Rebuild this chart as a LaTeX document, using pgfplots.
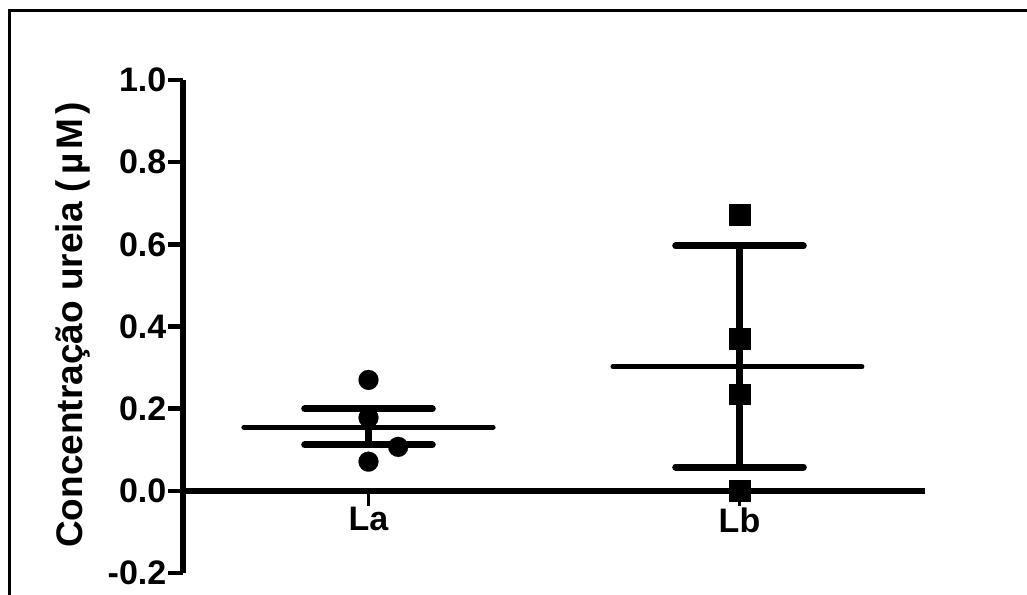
\documentclass[border=0pt]{standalone}
\usepackage{pgfplots}
\pgfplotsset{compat=1.18}
\usepackage{fontspec}
\setmainfont{Liberation Sans}
\begin{document}
\begin{tikzpicture}[x=1pt,y=1pt]
\useasboundingbox (0,0) rectangle (1027,594);
\draw[line width=2.5pt] (9.5,-5) -- (9.5,583.7) -- (1035,583.7);
\begin{axis}[
  at={(183pt,21pt)}, anchor=south west,
  scale only axis, width=742pt, height=493pt,
  xmin=0.5, xmax=2.5, ymin=-0.2, ymax=1.0,
  enlargelimits=false, clip=false,
  axis x line=middle, axis y line=left,
  hide obscured x ticks=false, hide obscured y ticks=false,
  axis line style={-, line width=5.5pt},
  tick align=outside,
  major tick length=15pt,
  xtick={1,2}, xticklabels={La,Lb},
  ytick={-0.2,0,0.2,0.4,0.6,0.8,1.0},
  x tick style={line width=3.5pt, black},
  y tick style={line width=4.5pt, black},
  tick label style={font=\fontsize{34}{40}\selectfont\bfseries, inner sep=1.5pt},
  yticklabel style={/pgf/number format/.cd, fixed, fixed zerofill, precision=1, assume math mode=true},
  ylabel={Concentração ureia (\kern5ptµ\kern4ptM\kern4pt)},
  ylabel style={at={(axis description cs:-0.148,0.503)}, rotate=0, anchor=center, font=\fontsize{37}{42}\selectfont\bfseries},
]
% La mean, error bar
\addplot[black, line width=5pt, line cap=round] coordinates {(0.664,0.155) (1.336,0.155)};
\addplot[black, line width=7pt] coordinates {(1,0.112) (1,0.1995)};
\addplot[black, line width=7pt, line cap=round] coordinates {(0.828,0.1995) (1.172,0.1995)};
\addplot[black, line width=7pt, line cap=round] coordinates {(0.828,0.112) (1.172,0.112)};
% Lb mean, error bar
\addplot[black, line width=5pt, line cap=round] coordinates {(1.659,0.302) (2.330,0.302)};
\addplot[black, line width=7pt] coordinates {(2,0.058) (2,0.596)};
\addplot[black, line width=7pt, line cap=round] coordinates {(1.828,0.596) (2.172,0.596)};
\addplot[black, line width=7pt, line cap=round] coordinates {(1.828,0.058) (2.172,0.058)};
% points
\addplot[only marks, mark=*, mark size=10pt, mark options={fill=black, draw=black, line width=0.1pt}] coordinates {(1,0.270) (1,0.178) (1.080,0.107) (1,0.071)};
\addplot[only marks, mark=square*, mark size=10.3pt, mark options={fill=black, draw=black, line width=0.1pt}] coordinates {(2,0.672) (2,0.370) (2,0.236) (2,0.0)};
\end{axis}
\end{tikzpicture}
\end{document}
